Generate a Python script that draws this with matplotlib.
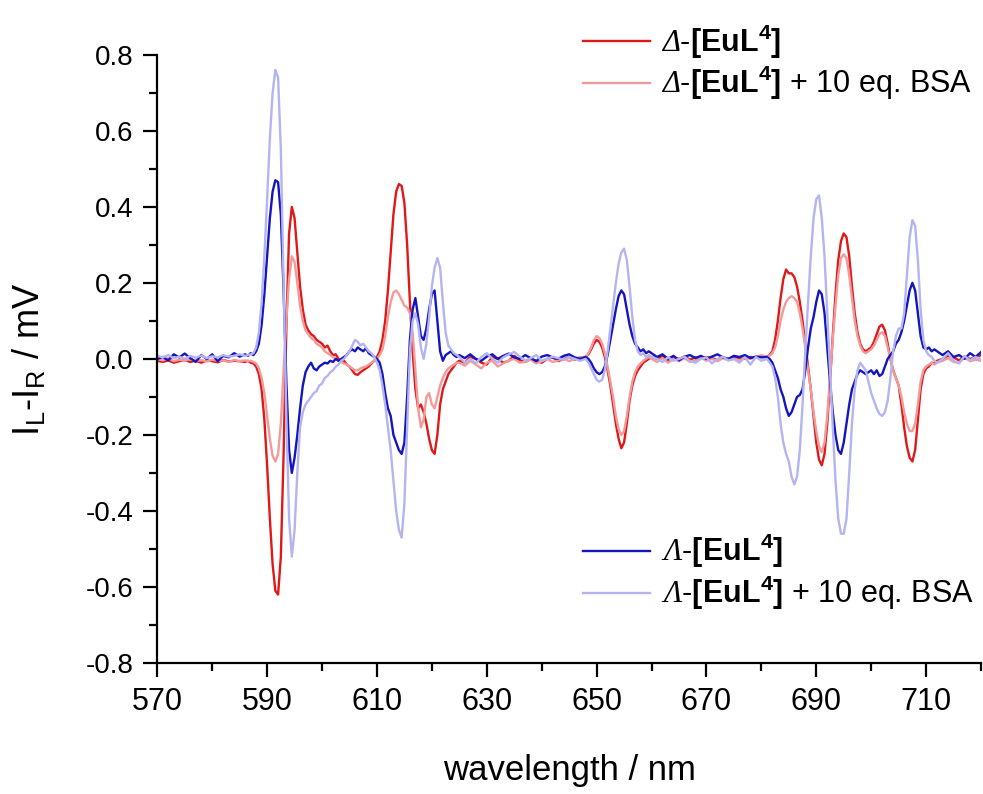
import numpy as np
import matplotlib
matplotlib.use('Agg')
import matplotlib.pyplot as plt
from matplotlib.ticker import MultipleLocator, FormatStrFormatter

plt.rcParams['font.family'] = ['Liberation Sans', 'DejaVu Sans']
plt.rcParams['mathtext.fontset'] = 'custom'
plt.rcParams['mathtext.rm'] = 'Liberation Sans'
plt.rcParams['mathtext.it'] = 'Liberation Sans:italic'
plt.rcParams['mathtext.bf'] = 'Liberation Sans:bold'
# italic greek capitals (Delta / Lambda) go through the cal slot
plt.rcParams['mathtext.cal'] = 'Liberation Serif:italic'

# wavelength sampling (nm): 1 nm on the flat baseline, 0.5 nm across the bands
wl = np.concatenate([np.arange(570, 586, 1.0), np.arange(586, 625, 0.5),
                     np.arange(625, 648, 1.0), np.arange(648, 660, 0.5),
                     np.arange(660, 681, 1.0), np.arange(681, 712, 0.5),
                     np.arange(712, 721, 1.0)])

# Delta-[EuL4]
delta = [
    -0.005, -0.008, -0.004, -0.01, -0.006, -0.003, -0.008, -0.005, -0.01, -0.004, -0.006, -0.009, -0.003, -0.007, -0.005, -0.006,
    -0.008, -0.005, -0.01, -0.012, -0.02, -0.04, -0.08, -0.16, -0.28, -0.42, -0.54, -0.61, -0.62, -0.52, -0.25, 0.08,
    0.33, 0.40, 0.37, 0.28, 0.19, 0.13, 0.09, 0.075, 0.065, 0.06, 0.05, 0.045, 0.04, 0.03, 0.035, 0.02,
    0.01, 0.012, 0.0, -0.008, -0.005, -0.015, -0.02, -0.03, -0.04, -0.042, -0.035, -0.03, -0.025, -0.02, -0.012, -0.005,
    0.005, 0.02, 0.05, 0.1, 0.18, 0.28, 0.38, 0.44, 0.46, 0.455, 0.41, 0.3, 0.15, 0.02, -0.08, -0.13,
    -0.12, -0.14, -0.17, -0.21, -0.24, -0.25, -0.2, -0.12, -0.08, -0.06, -0.04, -0.03, -0.02, -0.01,
    -0.005, -0.01, 0.005, 0.0, -0.01, -0.015, 0.005, 0.0, -0.01, -0.005, 0.008, -0.004, -0.008, 0.0, -0.005, -0.01, 0.0, 0.004, -0.006, 0.0, 0.005, -0.002, 0.004,
    0.005, 0.012, 0.025, 0.04, 0.05, 0.045, 0.03, 0.005, -0.03, -0.07, -0.12, -0.17, -0.21, -0.235, -0.22, -0.17, -0.11, -0.07, -0.045, -0.03, -0.02, -0.01, -0.005, 0.0,
    0.005, 0.0, 0.008, -0.004, 0.004, 0.0, 0.006, -0.002, 0.004, 0.0, 0.005, 0.002, -0.003, 0.004, 0.0, 0.006, 0.002, 0.0, 0.005, 0.004, 0.008,
    0.005, 0.01, 0.02, 0.05, 0.1, 0.16, 0.21, 0.235, 0.225, 0.225, 0.215, 0.19, 0.15, 0.1, 0.04, -0.02,
    -0.08, -0.15, -0.22, -0.265, -0.28, -0.25, -0.17, -0.06, 0.06, 0.17, 0.26, 0.31, 0.33, 0.32, 0.27, 0.19,
    0.12, 0.07, 0.04, 0.025, 0.02, 0.025, 0.03, 0.045, 0.065, 0.085, 0.09, 0.075, 0.04, 0.0, -0.03, -0.05,
    -0.07, -0.12, -0.18, -0.23, -0.26, -0.27, -0.24, -0.16, -0.08, -0.04, -0.025, -0.02, -0.01, -0.012,
    -0.005, 0.0, 0.008, 0.004, -0.004, 0.006, 0.0, 0.004, 0.01,
]

# Delta-[EuL4] + 10 eq. BSA
delta_bsa = [
    0.0, -0.004, 0.002, -0.006, -0.002, -0.005, 0.0, -0.006, -0.003, -0.007, -0.002, -0.005, -0.004, -0.008, -0.003, -0.006,
    -0.004, -0.006, -0.005, -0.008, -0.012, -0.025, -0.05, -0.09, -0.15, -0.21, -0.255, -0.27, -0.25, -0.17, -0.03, 0.1,
    0.21, 0.27, 0.255, 0.2, 0.14, 0.1, 0.075, 0.065, 0.055, 0.05, 0.04, 0.035, 0.03, 0.02, 0.015, 0.01,
    0.005, 0.0, -0.005, -0.008, -0.012, -0.015, -0.02, -0.025, -0.03, -0.03, -0.025, -0.022, -0.02, -0.015, -0.01, -0.005,
    0.0, 0.01, 0.025, 0.06, 0.11, 0.15, 0.175, 0.18, 0.17, 0.155, 0.14, 0.135, 0.12, 0.07, -0.03, -0.13,
    -0.18, -0.16, -0.1, -0.09, -0.12, -0.13, -0.1, -0.07, -0.05, -0.035, -0.025, -0.02, -0.015, -0.01,
    -0.01, -0.018, -0.005, -0.015, -0.025, -0.01, -0.005, -0.02, -0.012, -0.004, 0.0, -0.01, -0.008, -0.002, -0.012, -0.006, 0.0, -0.008, -0.004, 0.002, -0.006, 0.0, 0.004,
    0.005, 0.015, 0.03, 0.05, 0.06, 0.055, 0.04, 0.015, -0.02, -0.06, -0.1, -0.15, -0.185, -0.2, -0.19, -0.15, -0.1, -0.06, -0.035, -0.02, -0.012, -0.005, 0.0, 0.005,
    0.0, -0.008, 0.002, -0.01, 0.0, -0.006, 0.002, -0.008, -0.004, 0.003, -0.005, 0.0, -0.006, 0.002, -0.004, 0.0, -0.005, 0.003, 0.0, 0.005, 0.01,
    0.005, 0.008, 0.015, 0.03, 0.06, 0.1, 0.13, 0.15, 0.16, 0.165, 0.16, 0.15, 0.12, 0.08, 0.03, -0.03,
    -0.08, -0.14, -0.19, -0.23, -0.245, -0.22, -0.15, -0.05, 0.05, 0.14, 0.22, 0.265, 0.275, 0.265, 0.22, 0.16,
    0.1, 0.06, 0.035, 0.02, 0.015, 0.02, 0.025, 0.035, 0.05, 0.065, 0.07, 0.06, 0.03, 0.0, -0.03, -0.05,
    -0.07, -0.1, -0.14, -0.17, -0.19, -0.19, -0.17, -0.12, -0.06, -0.03, -0.02, -0.015, -0.01, -0.015,
    -0.01, -0.005, 0.002, -0.008, -0.01, 0.004, -0.006, -0.002, -0.005,
]

# Lambda-[EuL4]
lam = [
    0.0, 0.005, -0.004, 0.012, 0.004, 0.014, 0.002, -0.008, 0.01, 0.0, 0.012, -0.006, 0.008, 0.004, 0.015, 0.006,
    0.012, 0.008, 0.015, 0.01, 0.02, 0.04, 0.09, 0.17, 0.27, 0.37, 0.44, 0.47, 0.465, 0.38, 0.18, -0.06,
    -0.24, -0.3, -0.26, -0.2, -0.13, -0.07, -0.035, -0.02, -0.01, -0.025, -0.03, -0.02, -0.015, -0.01, -0.012, -0.005,
    -0.008, 0.0, -0.005, 0.0, 0.005, 0.01, 0.02, 0.025, 0.02, 0.03, 0.025, 0.02, 0.028, 0.015, 0.01, 0.005,
    0.0, -0.01, -0.04, -0.09, -0.13, -0.15, -0.2, -0.22, -0.24, -0.25, -0.22, -0.1, 0.05, 0.13, 0.16, 0.11,
    0.06, 0.05, 0.08, 0.13, 0.17, 0.18, 0.1, 0.02, -0.005, 0.01, 0.015, 0.02, 0.01, 0.005,
    0.01, 0.002, 0.012, 0.0, -0.005, 0.006, 0.012, 0.0, 0.008, 0.014, 0.004, 0.0, 0.01, 0.002, -0.006, 0.006, 0.01, 0.004, 0.0, 0.008, 0.012, 0.004, 0.0,
    0.005, 0.0, -0.01, -0.025, -0.035, -0.04, -0.035, -0.02, 0.01, 0.05, 0.09, 0.13, 0.165, 0.18, 0.17, 0.13, 0.09, 0.06, 0.04, 0.03, 0.02, 0.025, 0.015, 0.02,
    0.015, 0.005, 0.012, 0.0, 0.008, -0.004, 0.006, 0.01, 0.002, 0.008, 0.0, 0.006, 0.012, 0.004, 0.0, 0.008, 0.005, 0.01, 0.002, 0.006, 0.004,
    0.005, 0.0, -0.01, -0.03, -0.05, -0.08, -0.1, -0.13, -0.15, -0.14, -0.12, -0.1, -0.095, -0.08, -0.03, 0.03,
    0.08, 0.11, 0.15, 0.18, 0.17, 0.12, 0.03, -0.06, -0.14, -0.2, -0.24, -0.25, -0.22, -0.17, -0.12, -0.08,
    -0.06, -0.04, -0.03, -0.035, -0.04, -0.035, -0.03, -0.04, -0.03, -0.045, -0.04, -0.02, 0.0, 0.01, 0.02, 0.04,
    0.05, 0.07, 0.1, 0.14, 0.18, 0.2, 0.18, 0.12, 0.06, 0.03, 0.025, 0.03, 0.02, 0.025,
    0.02, 0.01, 0.02, 0.005, 0.01, 0.0, 0.015, 0.005, 0.018,
]

# Lambda-[EuL4] + 10 eq. BSA
lam_bsa = [
    0.008, 0.004, 0.01, 0.002, 0.006, 0.0, 0.008, 0.003, 0.009, 0.002, 0.007, 0.004, 0.01, 0.006, 0.008, 0.012,
    0.008, 0.01, 0.012, 0.015, 0.03, 0.07, 0.15, 0.27, 0.42, 0.58, 0.7, 0.76, 0.74, 0.55, 0.2, -0.15,
    -0.42, -0.52, -0.45, -0.3, -0.18, -0.14, -0.12, -0.11, -0.1, -0.09, -0.085, -0.07, -0.065, -0.05, -0.045, -0.035,
    -0.03, -0.02, -0.015, -0.005, 0.0, 0.01, 0.02, 0.035, 0.05, 0.045, 0.035, 0.04, 0.03, 0.02, 0.015, 0.005,
    -0.01, -0.03, -0.07, -0.12, -0.18, -0.24, -0.32, -0.4, -0.45, -0.47, -0.38, -0.18, 0.02, 0.1, 0.12, 0.09,
    0.03, 0.0, 0.04, 0.11, 0.19, 0.24, 0.265, 0.24, 0.15, 0.07, 0.035, 0.025, 0.015, 0.01,
    0.005, -0.01, 0.0, -0.012, 0.005, 0.015, 0.0, -0.01, 0.004, 0.012, 0.018, 0.006, -0.004, 0.002, 0.01, -0.005, 0.0, 0.006, 0.002, -0.003, 0.005, 0.0, -0.005,
    0.0, -0.01, -0.025, -0.04, -0.055, -0.06, -0.055, -0.03, 0.02, 0.08, 0.14, 0.2, 0.25, 0.28, 0.29, 0.26, 0.19, 0.11, 0.05, 0.02, 0.01, 0.015, 0.005, 0.01,
    0.005, 0.0, -0.008, 0.004, -0.005, 0.0, 0.006, -0.006, -0.01, 0.0, 0.004, -0.012, 0.0, 0.006, -0.004, 0.0, -0.01, 0.004, -0.015, 0.005, -0.005,
    0.0, -0.01, -0.02, -0.05, -0.1, -0.17, -0.22, -0.25, -0.27, -0.31, -0.33, -0.31, -0.24, -0.12, 0.02, 0.15,
    0.27, 0.37, 0.42, 0.43, 0.37, 0.27, 0.12, -0.03, -0.18, -0.32, -0.42, -0.46, -0.46, -0.42, -0.3, -0.17,
    -0.08, -0.03, -0.01, -0.02, -0.03, -0.06, -0.09, -0.11, -0.13, -0.145, -0.15, -0.14, -0.11, -0.05, 0.02, 0.06,
    0.08, 0.08, 0.12, 0.22, 0.32, 0.365, 0.35, 0.26, 0.13, 0.05, 0.02, 0.01, 0.005, -0.005,
    -0.01, 0.0, 0.015, -0.005, -0.012, 0.008, -0.004, 0.005, 0.0,
]

xticks = [570, 590, 610, 630, 650, 670, 690, 710]

labels = [r'$\mathcal{\Delta}$-$\mathbf{[EuL^4]}$',
          r'$\mathcal{\Delta}$-$\mathbf{[EuL^4]}$ + 10 eq. BSA',
          r'$\mathcal{\Lambda}$-$\mathbf{[EuL^4]}$',
          r'$\mathcal{\Lambda}$-$\mathbf{[EuL^4]}$ + 10 eq. BSA']
colors = ['#e01818', '#f29a9a', '#1414c0', '#b4b4f2']

fig = plt.figure(figsize=(9.83, 7.94), dpi=100)
ax = fig.add_axes([0.16, 0.165, 0.838, 0.766])

l1, = ax.plot(wl, delta, color=colors[0], lw=1.7)
l2, = ax.plot(wl, delta_bsa, color=colors[1], lw=1.7)
l3, = ax.plot(wl, lam, color=colors[2], lw=1.7)
l4, = ax.plot(wl, lam_bsa, color=colors[3], lw=1.7)

ax.set_xlim(570, 720)
ax.set_ylim(-0.8, 0.8)
ax.set_xticks(xticks)
ax.xaxis.set_minor_locator(MultipleLocator(10))
ax.yaxis.set_major_locator(MultipleLocator(0.2))
ax.yaxis.set_minor_locator(MultipleLocator(0.1))
ax.yaxis.set_major_formatter(FormatStrFormatter('%.1f'))
ax.spines['top'].set_visible(False)
ax.spines['right'].set_visible(False)
for s in ['left', 'bottom']:
    ax.spines[s].set_linewidth(1.6)
ax.tick_params(which='major', direction='out', length=10, width=1.6, labelsize=20, pad=7)
ax.tick_params(which='minor', direction='out', length=6, width=1.6)
for t in ax.get_xticklabels():
    t.set_fontsize(22)

ax.set_xlabel('wavelength / nm', fontsize=25, labelpad=27)
ax.set_ylabel(r'I$_\mathrm{L}$-I$_\mathrm{R}$ / mV', fontsize=26, labelpad=28)

leg_kw = dict(loc='upper left', frameon=False, fontsize=22, handlelength=2.2,
              handletextpad=0.35, labelspacing=0.12, borderpad=0, borderaxespad=0)
leg1 = fig.legend([l1, l2], labels[:2], bbox_to_anchor=(0.593, 0.972), **leg_kw)
leg2 = fig.legend([l3, l4], labels[2:], bbox_to_anchor=(0.593, 0.33), **leg_kw)

fig.savefig('out.png', dpi=100)
